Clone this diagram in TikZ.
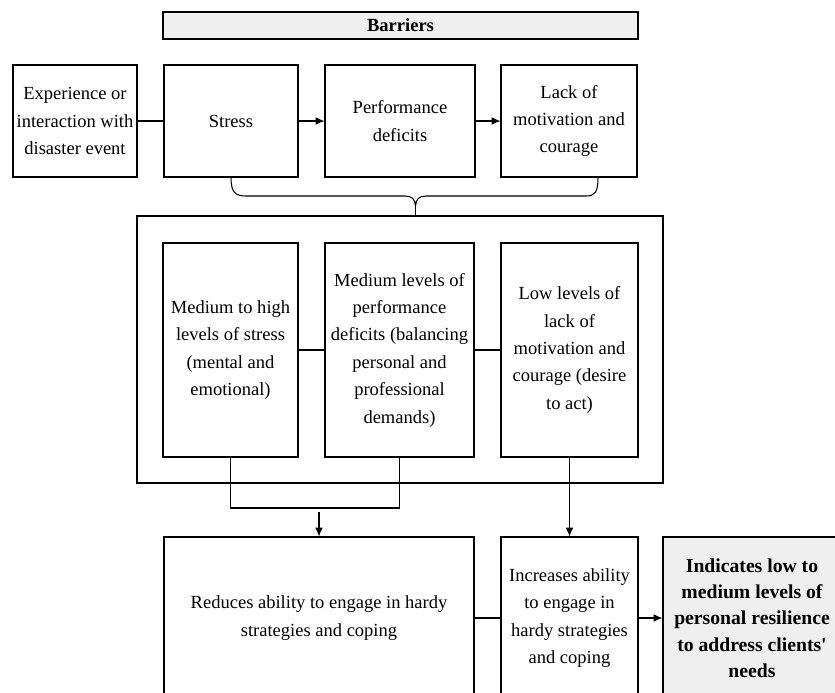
\documentclass[tikz,border=0pt]{standalone}
\usepackage{fontspec}
\setmainfont{Liberation Serif}
\usetikzlibrary{arrows.meta}
\definecolor{boxgray}{HTML}{EFEFEF}

\begin{document}
\begin{tikzpicture}[x=0.03cm,y=-0.03cm]
  \tikzset{box/.style = {shape=rectangle,draw,line width=0.9pt,inner sep=0pt,align=center,font=\fontsize{15.8}{23.4}\selectfont}}
  \tikzset{band/.style = {box,fill=boxgray,font=\fontsize{15.8}{23.4}\selectfont\bfseries}}
  \tikzset{result/.style = {box,fill=boxgray,font=\fontsize{16.8}{22.5}\selectfont\bfseries}}
  \tikzset{arr/.style = {-{Latex[length=7.5pt,width=6.5pt]},line width=0.9pt}}
  \tikzset{line/.style = {line width=0.9pt}}

  \fill[white] (0,0) rectangle (835,692);
  \useasboundingbox (0,0) rectangle (835,692);
  \clip (0,0) rectangle (835,692);

  % barriers row
	\node[band,minimum width=14.25cm,minimum height=0.81cm] (barriers) at (400.5,25.5) {Barriers};
	\node[box,minimum width=3.72cm,minimum height=3.36cm] (exper) at (75,121) {Experience or\\interaction with\\disaster event};
	\node[box,minimum width=4.02cm,minimum height=3.36cm] (stress) at (231,121) {Stress};
	\node[box,minimum width=4.5cm,minimum height=3.36cm] (perf) at (400,121) {Performance\\deficits};
	\node[box,minimum width=4.08cm,minimum height=3.36cm] (lack) at (569,121) {Lack of\\motivation and\\courage};

  % levels
	\node[box,minimum width=15.78cm,minimum height=8.01cm] (outer) at (400,349.5) {};
	\node[box,minimum width=4.05cm,minimum height=6.42cm] (mhigh) at (230.5,350) {Medium to high\\levels of stress\\(mental and\\emotional)};
	\node[box,minimum width=4.47cm,minimum height=6.42cm] (mperf) at (399.5,350) {Medium levels of\\performance\\deficits (balancing\\personal and\\professional\\demands)};
	\node[box,minimum width=4.11cm,minimum height=6.42cm] (low) at (569.5,350) {Low levels of\\lack of\\motivation and\\courage (desire\\to act)};

  % outcomes
	\node[box,minimum width=9.3cm,minimum height=4.86cm] (reduce) at (319,618) {Reduces ability to engage in hardy\\strategies and coping};
	\node[box,minimum width=4.11cm,minimum height=4.86cm] (incr) at (569.5,618) {Increases ability\\to engage in\\hardy strategies\\and coping};
	\node[result,minimum width=5.34cm,minimum height=4.86cm] (indic) at (752,618) {Indicates low to\\medium levels of\\personal resilience\\to address clients\textquotesingle\\needs};

	\coordinate (brR) at (598,178);
	\coordinate (btip) at (415.5,206);
	\coordinate (join) at (319,508);

	\draw[line] (exper) -- (stress);
	\draw[line] (mhigh) -- (mperf);
	\draw[line] (mperf) -- (low);
	\draw[line] (reduce) -- (incr);
       \foreach \from/\to in {stress/perf, perf/lack, incr/indic}
    \draw[arr] (\from) -- (\to);

  % brace under the barriers
	\draw[line] (stress.south) .. controls (231,192) and (235,196) .. (246,196) -- (405,196)
	  .. controls (412,196) and (415,199) .. (btip) .. controls (416,199) and (419,196) .. (426,196)
	  -- (586,196) .. controls (595,196) and (598,192) .. (brR);
	\draw[line] (btip) -- (btip |- outer.north);

	\draw[line] (mhigh.south) |- (join) -| (mperf.south);
	\draw[arr,shorten <=0.12cm] (join) -- (reduce.north);
	\draw[arr] (low.south) -- (incr.north);
\end{tikzpicture}
\end{document}
